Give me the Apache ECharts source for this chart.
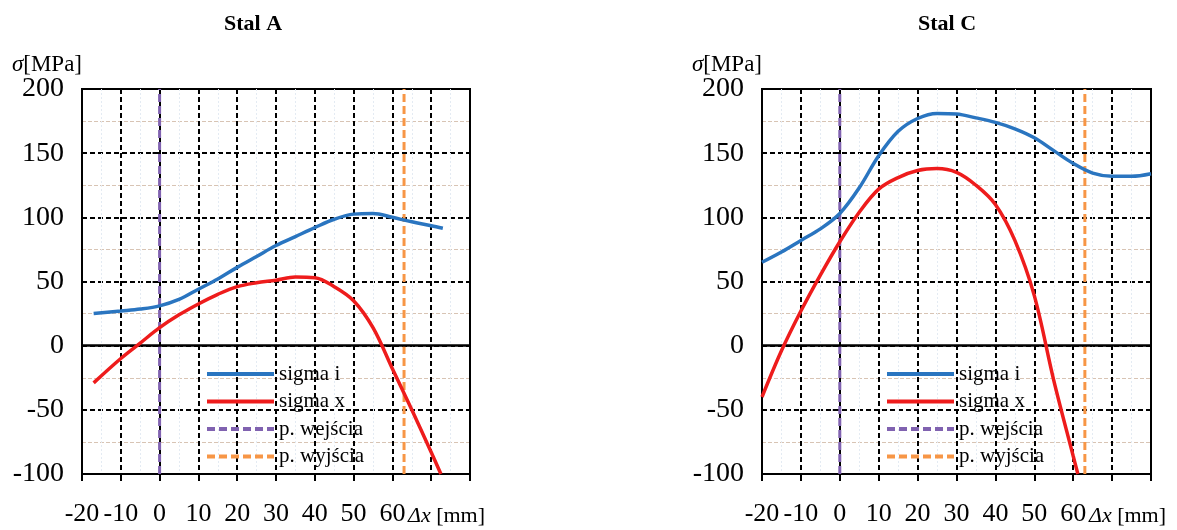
<!DOCTYPE html>
<html>
<head>
<meta charset="utf-8">
<title>Stal A / Stal C</title>
<script src="https://cdn.jsdelivr.net/npm/echarts@6/dist/echarts.min.js"></script>
<style>
    html, body { margin: 0; padding: 0; background: #fff; }
    #chart { width: 1177px; height: 530px; }
</style>
</head>
<body>
<div id="chart"></div>
<script>
// x labels that are printed (70 and 80 give way to the axis name)
var xLabels = [-20, -10, 0, 10, 20, 30, 40, 50, 60];
var titles = ['Stal A', 'Stal C'];
var names = ['sigma i', 'sigma x', 'p. wejścia', 'p. wyjścia'];

// Stal A  [dx mm, MPa]
var stalA_sigmaI = [[-17, 25], [-10, 27], [-5, 28.5], [0, 31], [5, 36], [10, 44], [15, 52], [20, 61],
    [25, 69.5], [30, 78], [35, 85], [40, 92], [45, 98.5], [50, 102.5], [55, 103], [60, 100],
    [65, 96.5], [70, 93.5], [73, 91.5]];
var stalA_sigmaX = [[-17, -29], [-10, -10], [-5, 2], [0, 14], [5, 24], [10, 32.5], [15, 40], [20, 46],
    [25, 49], [30, 51], [35, 53.5], [40, 53], [45, 46], [50, 35], [55, 14], [60, -18], [65, -50],
    [70, -83], [72.5, -100]];

// Stal C
var stalC_sigmaI = [[-20, 65], [-15, 73], [-10, 82], [-5, 91], [0, 103], [5, 123], [10, 148], [15, 167],
    [20, 177], [25, 181], [30, 180.5], [35, 177.5], [40, 174], [45, 169], [50, 162], [55, 152],
    [60, 142], [65, 134.5], [70, 132], [75, 132], [80, 134]];
var stalC_sigmaX = [[-20, -40], [-15, -4], [-10, 27], [-5, 55], [0, 81], [5, 104], [10, 122], [15, 131],
    [20, 136.5], [25, 138], [30, 135], [35, 125], [40, 110], [45, 82], [50, 39], [55, -27],
    [60, -86], [61.2, -100]];

// wejscie / wyjscie positions (mm)
var entryX = [0, 0];
var exitX = [63, 63];

var yMin = -100, yMax = 200;
var font = "'Liberation Serif', 'DejaVu Serif', serif";
var colors = ['#2a75c0', '#ee1c1c', '#8062b0', '#f79646'];

var chart = echarts.init(document.getElementById('chart'));

function vline(xs) {
    return [[xs[0], yMin], [xs[1], yMax]];
}

function xAxisOf(i) {
    return {
        type: 'value', gridIndex: i, min: -20, max: 80, interval: 10,
        axisLine: { onZero: false, lineStyle: { color: '#000', width: 2 } },
        axisTick: { show: true, length: 7, lineStyle: { color: '#000', width: 2 } },
        axisLabel: {
            margin: 27, color: '#000', fontFamily: font, fontSize: 26,
            formatter: function(v) { return xLabels.indexOf(v) >= 0 ? String(v) : ''; }
        },
        splitLine: { show: true, lineStyle: { color: '#000', width: 2, type: [5, 3] } },
        minorTick: { show: true, splitNumber: 2, length: 0 },
        minorSplitLine: { show: true, lineStyle: { color: '#e4ebf3', width: 1, type: [2, 2] } },
        name: '{d|Δx} [mm]',
        nameLocation: 'end',
        nameGap: -62,
        nameMoveOverlap: false,
        nameTextStyle: {
            color: '#000', fontFamily: font, fontSize: 22, align: 'left', verticalAlign: 'top',
            padding: [31, 0, 0, 0],
            rich: { d: { fontFamily: font, fontSize: 22, fontStyle: 'italic', color: '#000' } }
        }
    };
}

function yAxisOf(i) {
    return {
        type: 'value', gridIndex: i, min: yMin, max: yMax, interval: 50,
        axisLine: { lineStyle: { color: '#000', width: 2 } },
        axisTick: { show: true, length: 7, lineStyle: { color: '#000', width: 2 } },
        axisLabel: { margin: 18, color: '#000', fontFamily: font, fontSize: 28 },
        splitLine: { show: true, lineStyle: { color: '#000', width: 2, type: [5, 3] } },
        minorTick: { show: true, splitNumber: 2, length: 0 },
        minorSplitLine: { show: true, lineStyle: { color: '#d8c4b4', width: 1, type: [4, 2] } }
    };
}

function seriesOf(i, sI, sX) {
    var base = { xAxisIndex: i, yAxisIndex: i, type: 'line', symbol: 'none', silent: true };
    return [
        Object.assign({}, base, {
            name: names[0], data: sI, smooth: 0.35, z: 5,
            lineStyle: { color: colors[0], width: 3.5 }, itemStyle: { color: colors[0] },
            markLine: {
                silent: true, symbol: 'none', label: { show: false },
                lineStyle: { color: '#000', width: 2.5, type: 'solid' },
                data: [{ yAxis: 0 }]
            }
        }),
        Object.assign({}, base, {
            name: names[1], data: sX, smooth: 0.35, z: 5,
            lineStyle: { color: colors[1], width: 3.5 }, itemStyle: { color: colors[1] }
        }),
        Object.assign({}, base, {
            name: names[2], data: vline(entryX), z: 4,
            lineStyle: { color: colors[2], width: 3, type: [8, 4] }, itemStyle: { color: colors[2] }
        }),
        Object.assign({}, base, {
            name: names[3], data: vline(exitX), z: 4,
            lineStyle: { color: colors[3], width: 3, type: [8, 4] }, itemStyle: { color: colors[3] }
        })
    ];
}

function legendOf(left) {
    return {
        orient: 'vertical', left: left, top: 358,
        itemWidth: 67, itemHeight: 14, itemGap: 5.5,
        data: names,
        textStyle: { color: '#000', fontFamily: font, fontSize: 21, lineHeight: 22, height: 22 },
        lineStyle: { width: 4 },
        itemStyle: { color: 'rgba(0,0,0,0)', borderWidth: 0 },
        selectedMode: false
    };
}

function headOf(text, left) {
    return { text: text, left: left, top: 8, textAlign: 'center',
        textStyle: { fontFamily: font, fontSize: 22, fontWeight: 'bold', color: '#000' } };
}

// y axis unit, right-aligned to the axis line
function unitOf(left) {
    return { text: '{s|σ}[MPa]', left: left, top: 48, textAlign: 'right',
        textStyle: { fontFamily: font, fontSize: 23, fontWeight: 'normal', color: '#000',
            rich: { s: { fontFamily: font, fontSize: 23, fontStyle: 'italic', color: '#000' } } } };
}

var option = {
    animation: false,
    backgroundColor: '#fff',
    title: [headOf(titles[0], 248), headOf(titles[1], 942), unitOf(77), unitOf(757)],
    grid: [
        { left: 82, top: 89, width: 388, height: 385, show: true, backgroundColor: '#fff', borderColor: '#000', borderWidth: 2 },
        { left: 762, top: 89, width: 389, height: 385, show: true, backgroundColor: '#fff', borderColor: '#000', borderWidth: 2 }
    ],
    xAxis: [xAxisOf(0), xAxisOf(1)],
    yAxis: [yAxisOf(0), yAxisOf(1)],
    legend: [legendOf(200), legendOf(880)],
    series: seriesOf(0, stalA_sigmaI, stalA_sigmaX).concat(seriesOf(1, stalC_sigmaI, stalC_sigmaX))
};

chart.setOption(option);
</script>
</body>
</html>
